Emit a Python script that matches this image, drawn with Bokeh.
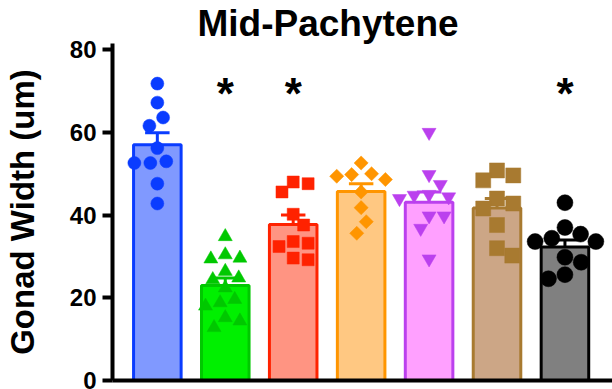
from bokeh.plotting import figure
from bokeh.models import Range1d, ColumnDataSource, FixedTicker
from bokeh.core.properties import value
from bokeh.embed import file_html
from bokeh.resources import INLINE

# Gonad width (um) measured per gonad, one list per strain
group_values = [
    [71.8, 67.2, 63.6, 61.6, 56.2, 52.6, 52.6, 53.0, 47.6, 42.8],
    [34.8, 29.6, 29.4, 30.4, 26.4, 24.4, 24.8, 22.4, 18.8, 19.6, 18.0, 15.2, 14.4, 12.8],
    [48.0, 47.6, 45.6, 40.2, 37.6, 33.6, 33.2, 32.4, 29.2, 29.6],
    [52.6, 50.0, 49.4, 48.6, 49.8, 45.6, 41.8, 38.4, 35.6],
    [60.0, 49.8, 47.4, 45.0, 44.4, 44.8, 44.0, 39.8, 39.8, 36.8, 29.4],
    [50.8, 49.6, 48.4, 44.0, 42.8, 41.6, 37.6, 32.0, 30.2],
    [43.0, 37.0, 35.4, 34.4, 33.6, 33.6, 29.8, 28.6, 24.6, 25.6],
]
means = [57.0, 23.0, 37.7, 45.7, 43.1, 41.7, 32.3]
sems = [2.9, 1.8, 2.3, 1.9, 2.5, 2.3, 1.7]
significant = [False, True, True, False, False, False, True]
y_ticks = [0, 20, 40, 60, 80]

# styling per bar
fills = ["#8099FF", "#00F000", "#FF9482", "#FFC882", "#FFA0FF", "#CCA686", "#808080"]
lines = ["#0A3CFF", "#00C800", "#FF2200", "#FF9500", "#BB40EE", "#A87A30", "#000000"]
markers = ["circle", "triangle", "square", "square", "inverted_triangle", "square", "circle"]
angles = [0, 0, 0, 0.785, 0, 0, 0]
sizes = [13, 14, 12, 10, 14, 15, 16]
swarm_diam = [16, 15, 15, 15, 15, 17, 17]

X_START, X_END = -0.66, 6.7
Y_START, Y_END = 0, 81.5
PX_PER_X = 500 / (X_END - X_START)
PX_PER_Y = 338 / (Y_END - Y_START)


def swarm_offsets(vals, diam):
    """Simple beeswarm: push overlapping points sideways."""
    placed = []
    offs = [0.0] * len(vals)
    for i in sorted(range(len(vals)), key=lambda k: -vals[k]):
        y = vals[i] * PX_PER_Y
        cands = [0.0]
        for xj, yj in placed:
            dy = abs(y - yj)
            if dy < diam:
                dx = (diam ** 2 - dy ** 2) ** 0.5
                cands += [xj + dx, xj - dx]
        cands.sort(key=abs)
        chosen = 0.0
        for c in cands:
            if all((c - xj) ** 2 + (y - yj) ** 2 >= diam ** 2 - 1e-6 for xj, yj in placed):
                chosen = c
                break
        placed.append((chosen, y))
        offs[i] = chosen / PX_PER_X
    return offs


p = figure(width=612, height=389, x_range=Range1d(X_START, X_END),
           y_range=Range1d(Y_START, Y_END), output_backend="svg",
           toolbar_location=None, min_border_left=0, min_border_right=0,
           min_border_top=0, min_border_bottom=9)
p.outline_line_color = None
p.grid.visible = False
p.background_fill_color = "white"

idx = list(range(len(means)))
bars = ColumnDataSource(dict(x=idx, top=means, fill=fills, line=lines))
p.vbar(x="x", top="top", width=0.7, bottom=0, source=bars,
       fill_color="fill", line_color="line", line_width=3)

# upper SEM whiskers
err = ColumnDataSource(dict(
    x=idx, y0=means, y1=[m + s for m, s in zip(means, sems)],
    xl=[i - 0.18 for i in idx], xr=[i + 0.18 for i in idx], line=lines))
p.segment(x0="x", y0="y0", x1="x", y1="y1", source=err, line_color="line", line_width=3)
p.segment(x0="xl", y0="y1", x1="xr", y1="y1", source=err, line_color="line", line_width=3)

# individual gonads
for i, vals in enumerate(group_values):
    offs = swarm_offsets(vals, swarm_diam[i])
    src = ColumnDataSource(dict(x=[i + o for o in offs], y=vals))
    p.scatter(x="x", y="y", source=src, marker=markers[i], size=sizes[i],
              angle=angles[i], fill_color=lines[i], line_color=lines[i], line_width=0.5)

# significance asterisks
sig_x = [i for i in idx if significant[i]]
p.text(x=sig_x, y=[69.3] * len(sig_x), text=["*"] * len(sig_x),
       text_font=value("Liberation Sans"), text_font_style="bold",
       text_font_size="44px", text_align="center", text_baseline="alphabetic",
       text_color="black")

p.title.text = "Mid-Pachytene"
p.title.text_font = "Liberation Sans"
p.title.text_font_size = "37px"
p.title.text_font_style = "bold"
p.title.text_color = "black"
p.title.align = "left"
p.title.offset = 85
p.title.standoff = 0

ya = p.yaxis[0]
ya.ticker = FixedTicker(ticks=y_ticks)
ya.axis_label = "Gonad Width (um)"
ya.axis_label_text_font = "Liberation Sans"
ya.axis_label_text_font_size = "33px"
ya.axis_label_text_font_style = "bold"
ya.axis_label_text_color = "black"
ya.axis_label_standoff = 26
ya.major_label_text_font = "Liberation Sans"
ya.major_label_text_font_size = "24px"
ya.major_label_text_font_style = "bold"
ya.major_label_text_color = "black"
ya.major_label_standoff = 6
ya.axis_line_width = 4
ya.major_tick_line_width = 4
ya.major_tick_out = 10
ya.major_tick_in = 0
ya.minor_tick_line_color = None

xa = p.xaxis[0]
xa.ticker = FixedTicker(ticks=[])
xa.major_label_text_font_size = "0px"
xa.major_tick_line_color = None
xa.minor_tick_line_color = None
xa.axis_line_width = 4

open("out.html", "w").write(file_html(p, INLINE))
